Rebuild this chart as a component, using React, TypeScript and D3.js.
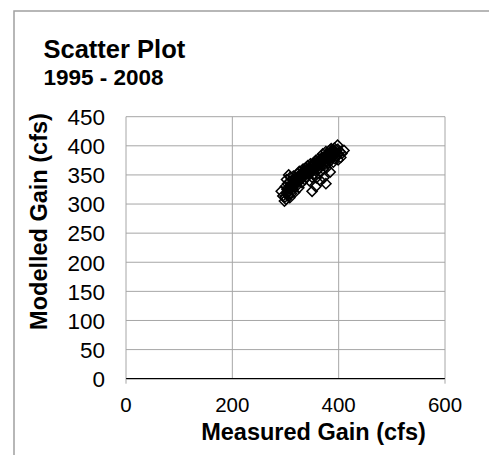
import React from "react";
import * as d3 from "d3";

const measured = [
  299, 301, 302, 303, 300, 305, 306, 304, 302, 307, 309, 306, 310, 311, 312, 313, 308, 314, 316, 315, 318, 317, 320, 319,
  322, 324, 323, 325, 327, 328, 326, 330, 331, 332, 334, 333, 336, 337, 338, 340, 341, 342, 344, 345, 346, 347, 348, 350, 349,
  352, 353, 354, 356, 357, 358, 360, 361, 362, 364, 365, 366, 368, 369, 370, 371, 372, 374, 375, 376, 377, 378, 379, 380,
  382, 383, 384, 385, 386, 388, 389, 390, 391, 392, 393, 395, 396, 398, 399, 400, 402, 404, 406, 410, 398,
  350, 357, 376, 366, 384, 372,
  292, 295, 298,
  304, 308, 312, 316, 320, 324, 328, 332, 336, 340, 344, 348, 352, 356, 360, 364, 368, 372, 376, 380, 384, 388, 392,
  310, 318, 326, 334, 342, 350, 358, 366, 374, 382, 390,
  305, 313, 321, 329, 337, 345, 353, 361, 369, 377, 385, 393,
];
const modelled = [
  312, 308, 318, 325, 330, 315, 322, 335, 342, 338, 346, 350, 328, 318, 335, 342, 311, 325, 332, 348, 339, 320, 330, 345,
  336, 344, 352, 328, 340, 350, 356, 345, 337, 355, 348, 360, 342, 352, 362, 347, 357, 366, 352, 340, 360, 369, 355, 346, 365,
  360, 370, 352, 365, 375, 345, 358, 368, 378, 362, 372, 355, 366, 380, 386, 360, 375, 368, 382, 390, 362, 373, 386, 370,
  380, 392, 375, 386, 395, 380, 390, 372, 384, 396, 378, 388, 382, 394, 376, 386, 390, 380, 387, 392, 401,
  322, 330, 335, 340, 355, 345,
  322, 314, 305,
  320, 326, 330, 338, 340, 348, 345, 352, 356, 358, 362, 364, 368, 370, 372, 376, 378, 380, 384, 384, 388, 392, 392,
  334, 342, 344, 354, 352, 360, 362, 370, 372, 378, 386,
  328, 333, 340, 344, 350, 356, 360, 366, 374, 380, 384, 390,
];
const xTicks = [0, 200, 400, 600];
const yTicks = [0, 50, 100, 150, 200, 250, 300, 350, 400, 450];

const title = "Scatter Plot";
const subtitle = "1995 - 2008";
const xTitle = "Measured Gain (cfs)";
const yTitle = "Modelled Gain (cfs)";

export default function App() {
  const left = 126, right = 445, top = 116.7, bottom = 378.7;
  const x = d3.scaleLinear().domain([0, 600]).range([left, right]);
  const y = d3.scaleLinear().domain([0, 450]).range([bottom, top]);
  const font = "'Liberation Sans', Arial, sans-serif";
  const grid = "#a6a6a6";
  const diamond = d3.symbol().type(d3.symbolSquare).size(52)();
  return (
    <svg width={489} height={455} style={{ position: "absolute", left: 0, top: 0, background: "#fff" }} fontFamily={font}>
      <rect x={14} y={11} width={600} height={600} fill="#fff" stroke="#a0a0a0" strokeWidth={1.5} />
      <text x={43.5} y={58.3} fontSize={25.5} fontWeight="bold">{title}</text>
      <text x={43.5} y={85} fontSize={22.5} fontWeight="bold">{subtitle}</text>
      {yTicks.filter((t) => t > 0).map((t) => (
        <line key={"h" + t} x1={left} x2={right} y1={y(t)} y2={y(t)} stroke={grid} strokeWidth={1} />
      ))}
      {xTicks.map((t) => (
        <line key={"v" + t} x1={x(t)} x2={x(t)} y1={top} y2={bottom} stroke={grid} strokeWidth={1} />
      ))}
      <line x1={left} x2={right} y1={bottom} y2={bottom} stroke="#000" strokeWidth={1.3} />
      <line x1={x(0)} x2={x(0)} y1={bottom} y2={bottom + 5} stroke={grid} strokeWidth={1} />
      <line x1={x(600)} x2={x(600)} y1={bottom} y2={bottom + 5} stroke={grid} strokeWidth={1} />
      {yTicks.map((t) => (
        <text key={"yl" + t} x={105} y={y(t) + 8.3} fontSize={22.5} textAnchor="end">{t}</text>
      ))}
      {xTicks.map((t) => (
        <text key={"xl" + t} x={x(t)} y={412} fontSize={20.5} textAnchor="middle">{t}</text>
      ))}
      <text x={313.5} y={439.5} fontSize={23.5} fontWeight="bold" textAnchor="middle">{xTitle}</text>
      <text transform={`translate(47,221.5) rotate(-90)`} fontSize={23.5} fontWeight="bold" textAnchor="middle">{yTitle}</text>
      {measured.map((m, i) => (
        <path key={i} d={diamond} transform={`translate(${x(m)},${y(modelled[i])}) rotate(45)`} fill="none" stroke="#000" strokeWidth={1.5} />
      ))}
    </svg>
  );
}
